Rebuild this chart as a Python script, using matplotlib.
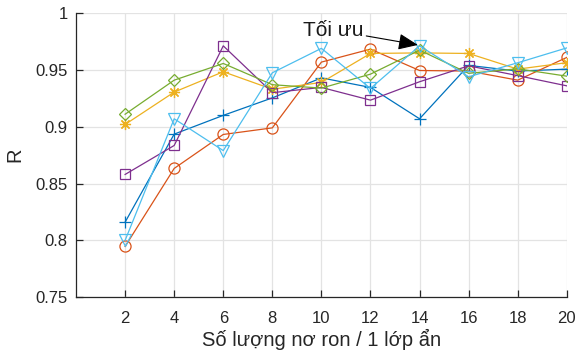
import matplotlib.pyplot as plt
import numpy as np

plt.rcParams['font.family'] = ['Liberation Sans', 'DejaVu Sans']

neurons = [2, 4, 6, 8, 10, 12, 14, 16, 18, 20]
r_blue = [0.816, 0.8935, 0.910, 0.9254, 0.943, 0.9346, 0.907, 0.954, 0.949, 0.9507]
r_orange = [0.7946, 0.8633, 0.8932, 0.899, 0.9569, 0.9683, 0.9495, 0.949, 0.941, 0.961]
r_yellow = [0.902, 0.9305, 0.9484, 0.933, 0.939, 0.9645, 0.965, 0.9645, 0.9507, 0.9564]
r_purple = [0.858, 0.8835, 0.9712, 0.930, 0.9346, 0.9234, 0.9396, 0.9536, 0.945, 0.936]
r_green = [0.911, 0.941, 0.9557, 0.9370, 0.934, 0.9463, 0.9674, 0.947, 0.951, 0.9445]
r_cyan = [0.80, 0.907, 0.879, 0.9475, 0.969, 0.9337, 0.9712, 0.944, 0.9563, 0.9694]

# (values, colour, marker, marker size)
series = [
    (r_blue, '#0072BD', '+', 8),
    (r_orange, '#D95319', 'o', 8),
    (r_yellow, '#EDB120', (8, 2, 0), 8),
    (r_purple, '#7E2F8E', 's', 7),
    (r_green, '#77AC30', 'D', 6.5),
    (r_cyan, '#4DBEEE', 'v', 8),
]

fig = plt.figure(figsize=(5.76, 3.55), dpi=100)
ax = fig.add_axes([0.132, 0.163, 0.852, 0.800])

for vals, col, mk, ms in series:
    ax.plot(neurons, vals, color=col, marker=mk, markersize=ms, linewidth=0.9,
            markerfacecolor='none', markeredgecolor=col, markeredgewidth=0.9)

ax.set_xlim(0, 20)
ax.set_ylim(0.75, 1.0)
ax.set_xticks(neurons)
ax.set_yticks([0.75, 0.8, 0.85, 0.9, 0.95, 1.0])
ax.set_yticklabels(['0.75', '0.8', '0.85', '0.9', '0.95', '1'])
ax.grid(True, color='#e3e3e3', linewidth=0.9)
ax.set_axisbelow(True)
for side in ('top', 'right'):
    ax.spines[side].set_visible(False)
for side in ('left', 'bottom'):
    ax.spines[side].set_color('#262626')
    ax.spines[side].set_linewidth(0.9)
ax.tick_params(direction='in', length=5, width=0.9, colors='#262626',
               labelsize=12)
ax.tick_params(axis='x', pad=10)
ax.tick_params(axis='y', pad=6)

ax.set_xlabel('Số lượng nơ ron / 1 lớp ẩn', fontsize=14.5, color='#262626', labelpad=2)
ax.set_ylabel('R', fontsize=14.5, color='#262626', labelpad=8)

ax.annotate('Tối ưu', xy=(13.93, 0.972), xytext=(9.25, 0.985),
            fontsize=15, va='center', ha='left', color='#1a1a1a',
            arrowprops=dict(arrowstyle='-|>,head_length=0.6,head_width=0.25',
                            color='black', lw=0.8, mutation_scale=20,
                            shrinkA=0, shrinkB=0))

fig.savefig('out.png', dpi=100)
